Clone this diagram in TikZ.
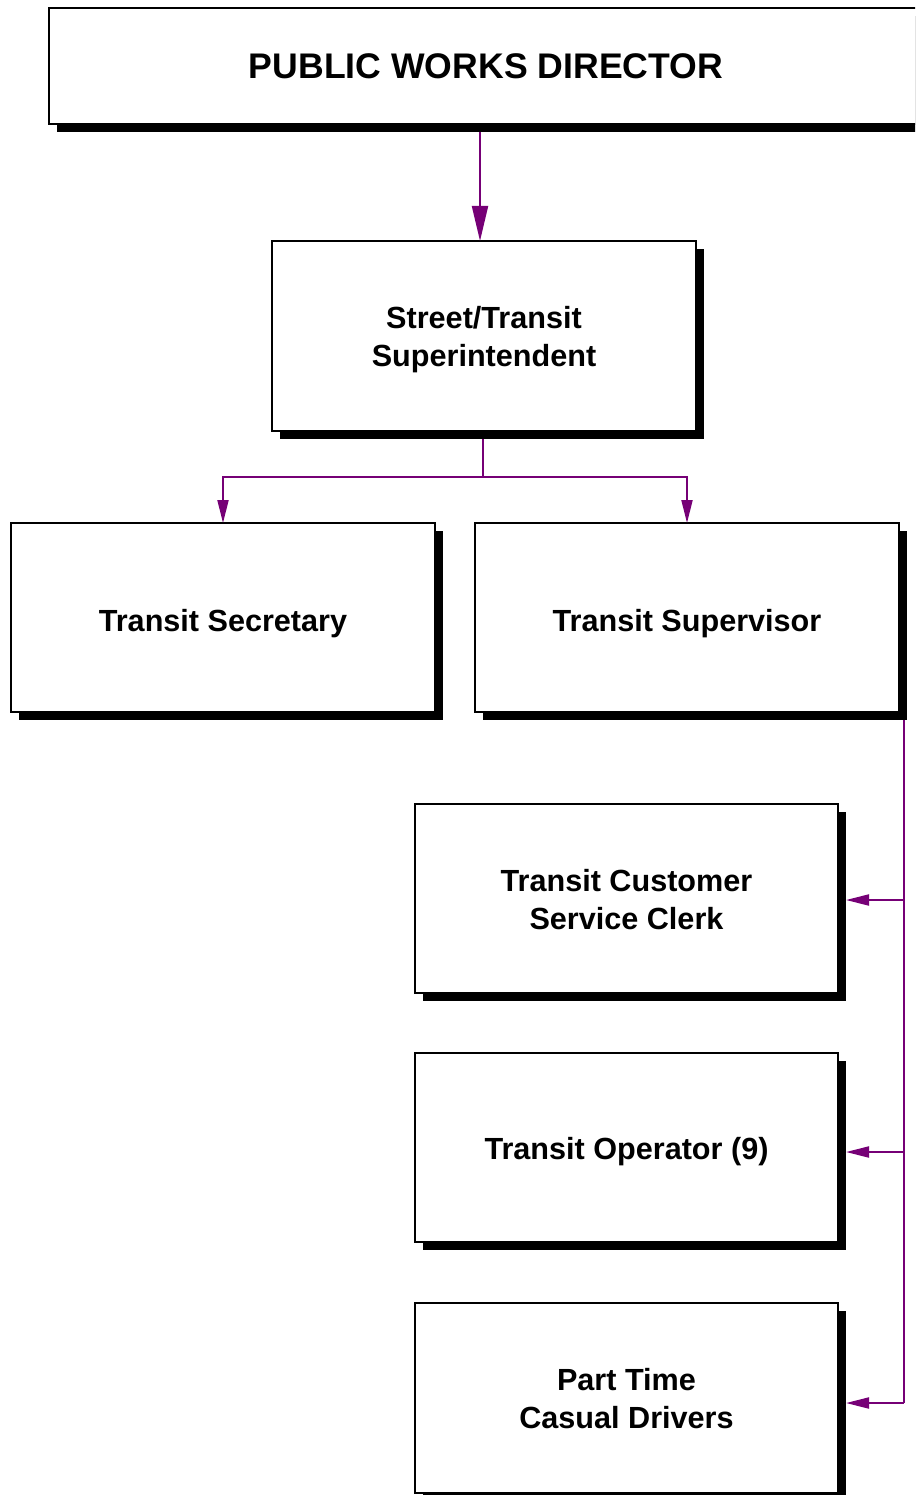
\documentclass[tikz,border=0pt]{standalone}
\usepackage{fontspec}
\setmainfont{Liberation Sans}
\usetikzlibrary{arrows.meta,backgrounds}
\definecolor{linkpurple}{RGB}{118,0,118}
\tikzset{
  orgbox/.style={draw=black, line width=2pt, fill=white, rectangle, outer sep=0pt},
  openbox/.style={fill=white, rectangle, outer sep=0pt},
  edge line/.style={draw=black, line width=2pt},
  boxshadow/.style={fill=black},
  lbl/.style={align=center, inner sep=0pt, font=\bfseries\fontsize{30.6}{38}\selectfont},
  titlelbl/.style={lbl, font=\bfseries\fontsize{35.6}{42}\selectfont},
  link/.style={draw=linkpurple, line width=2pt},
  bigtip/.style={link, -{Triangle[length=35pt,width=16pt]}},
  smalltip/.style={link, -{Triangle[length=23pt,width=11pt]}},
}
\begin{document}
\begin{tikzpicture}[x=1pt, y=-1pt]
  \useasboundingbox (0,0) rectangle (915,1495);
  \clip (0,0) rectangle (915,1495);

  % the director's box runs off the right-hand edge
  \node[openbox, minimum width=890pt, minimum height=116pt] (dir) at (494,66) {};
  \draw[edge line] (dir.north east) -- (dir.north west) -- (dir.south west) -- (dir.south east);

  % boxes
  \node[orgbox, minimum width=424pt, minimum height=190pt] (sup) at (484,336) {};
  \node[orgbox, minimum width=424pt, minimum height=189pt] (sec) at (223,617.5) {};
  \node[orgbox, minimum width=424pt, minimum height=189pt] (spv) at (687,617.5) {};
  \node[orgbox, minimum width=423pt, minimum height=189pt] (csc) at (626.5,898.5) {};
  \node[orgbox, minimum width=423pt, minimum height=189pt] (opr) at (626.5,1147.5) {};
  \node[orgbox, minimum width=423pt, minimum height=190pt] (ptd) at (626.5,1398) {};

  % box texts
  \node[titlelbl] (dir-t) at (486,66) {PUBLIC WORKS DIRECTOR};
  \node[lbl] (sup-t) at ([yshift=-4pt]sup.center) {Street/Transit\\Superintendent};
  \node[lbl] (sec-t) at ([yshift=-6pt]sec.center) {Transit Secretary};
  \node[lbl] (spv-t) at ([yshift=-6pt]spv.center) {Transit Supervisor};
  \node[lbl] (csc-t) at ([yshift=-1pt]csc.center) {Transit Customer\\Service Clerk};
  \node[lbl] (opr-t) at ([yshift=-4pt]opr.center) {Transit Operator (9)};
  \node[lbl] (ptd-t) at ([yshift=-1pt]ptd.center) {Part Time\\Casual Drivers};

  % drop shadows behind the boxes
  \begin{scope}[on background layer]
    \clip (0,0) rectangle (915,1495);
    \foreach \b in {dir,sup,sec,spv,csc,opr,ptd}
      \fill[boxshadow] ([shift={(8pt,-8pt)}]\b.south west) rectangle ([shift={(8pt,-8pt)}]\b.north east);
  \end{scope}

  % director to superintendent
  \coordinate (dirout) at (480,132);
  \draw[bigtip] (dirout) -- (dirout |- sup.north);

  % superintendent to secretary and supervisor
  \coordinate (supout) at (483,439);
  \coordinate (bus) at (483,477);
  \draw[link] (supout) -- (bus);
  \draw[smalltip] (bus) -| (sec.north);
  \draw[smalltip] (bus) -| (spv.north);

  % supervisor to the staff below
  \coordinate (spvout) at (904,720);
  \coordinate (spvend) at (904,1403);
  \draw[link] (spvout) -- (spvend);
  \draw[smalltip] (spvout |- 0,900) -- ([xshift=8pt]csc.east |- 0,900);
  \draw[smalltip] (spvout |- 0,1152) -- ([xshift=8pt]opr.east |- 0,1152);
  \draw[smalltip] (spvend) -- ([xshift=8pt]ptd.east |- spvend);
\end{tikzpicture}
\end{document}
